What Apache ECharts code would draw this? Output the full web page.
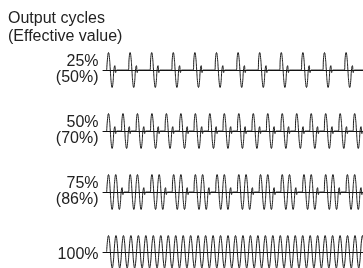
<!DOCTYPE html>
<html>
<head>
<meta charset="utf-8">
<script src="https://cdn.jsdelivr.net/npm/echarts@6/dist/echarts.min.js"></script>
<style>
  html, body { margin: 0; padding: 0; background: #fff; }
  #container { width: 363px; height: 268px; }
</style>
</head>
<body>
<div id="container"></div>
<script>
// output ratio with effective value, one per row
const rowLabels = ['25%\n(50%)', '50%\n(70%)', '75%\n(86%)', '100%'];
// what happens in each mains cycle, repeated along the row
const rowPatterns = [
  ['on', 'blip', 'off'],
  ['on', 'blip'],
  ['on', 'on', 'blip'],
  ['on']
];
// one cycle, 8 samples
const onCycle = [0, 0.71, 1, 0.71, 0, -0.71, -1, -0.71];
const blipCycle = [0, 0.25, -0.15, 0, 0, 0, 0, 0];
const offCycle = [0, 0, 0, 0, 0, 0, 0, 0];
const cycleCount = 40;

const shapes = { on: onCycle, blip: blipCycle, off: offCycle };

function buildWave(pattern) {
  const pts = [];
  for (let c = 0; c < cycleCount; c++) {
    const shape = shapes[pattern[c % pattern.length]];
    shape.forEach((v, k) => pts.push([c + k / shape.length, v]));
  }
  pts.push([cycleCount, 0]);
  return pts;
}

// layout
const baselines = [70, 131, 192, 253];
const cyclePx = [7.2, 7.24, 7.24, 7.47];
const gridLeft = 103;
const gridWidth = 260;
const amp = 17.5;

const grids = [], xAxes = [], yAxes = [], series = [], texts = [];
rowPatterns.forEach((pattern, i) => {
  const P = cyclePx[i];
  const min = 0.25 - 5.5 / P;
  grids.push({ left: gridLeft, width: gridWidth, top: baselines[i] - amp, height: amp * 2 });
  xAxes.push({
    type: 'value', gridIndex: i, min: min, max: min + gridWidth / P,
    axisLine: { show: true, onZero: true, lineStyle: { color: '#111', width: 1 } },
    axisTick: { show: false }, axisLabel: { show: false }, splitLine: { show: false }
  });
  yAxes.push({
    type: 'value', gridIndex: i, min: -1, max: 1,
    axisLine: { show: false }, axisTick: { show: false },
    axisLabel: { show: false }, splitLine: { show: false }
  });
  series.push({
    type: 'line', xAxisIndex: i, yAxisIndex: i,
    data: buildWave(pattern),
    smooth: true, showSymbol: false, silent: true,
    lineStyle: { color: '#1e1e1e', width: 1 }
  });
  texts.push({
    type: 'text', x: 98.5, y: baselines[i] + (i === 3 ? 1.5 : 0),
    style: {
      text: rowLabels[i], font: '16px "Liberation Sans", Arial, sans-serif',
      fill: '#222', align: 'right', verticalAlign: 'middle', lineHeight: 16
    }
  });
});

texts.push({
  type: 'text', x: 8, y: 9.5,
  style: {
    text: 'Output cycles\n(Effective value)',
    font: '16px "Liberation Sans", Arial, sans-serif',
    fill: '#222', lineHeight: 18, verticalAlign: 'top'
  }
});

const chart = echarts.init(document.getElementById('container'));
chart.setOption({
  animation: false,
  grid: grids,
  xAxis: xAxes,
  yAxis: yAxes,
  series: series,
  graphic: texts
});
</script>
</body>
</html>
